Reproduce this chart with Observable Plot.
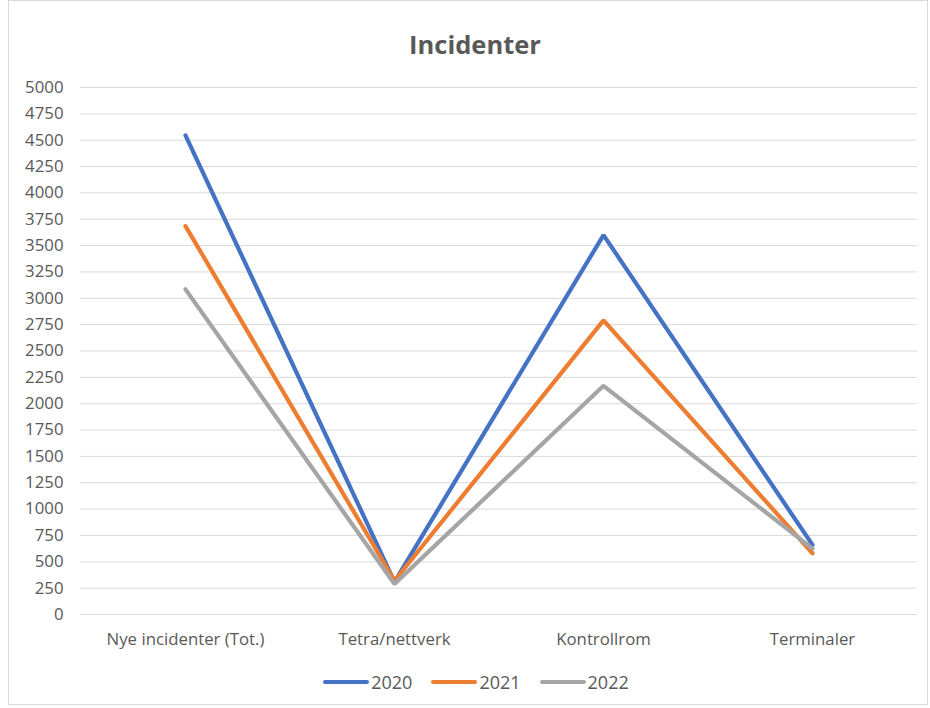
<!DOCTYPE html>
<html><head><meta charset="utf-8">
<script src="https://cdn.jsdelivr.net/npm/d3@7"></script>
<script src="https://cdn.jsdelivr.net/npm/@observablehq/plot@0.6"></script>
<style>
body{margin:0;background:#fff;font-family:"Open Sans",sans-serif;}
#box{position:absolute;left:8px;top:0;width:920px;height:705px;border:1px solid #d9d9d9;box-sizing:border-box;background:#fff;}
#title{height:69px;line-height:86px;text-align:center;font-size:25.5px;font-weight:bold;color:#595959;padding-left:14px;}
#chart svg text{font-size:16.8px;}
#legend{display:flex;justify-content:center;gap:19px;margin-top:9px;font-size:18px;color:#595959;padding-left:16px;}
.item{display:flex;align-items:center;gap:2px;}
.sw{width:46px;height:4px;border-radius:2px;display:inline-block;}
</style></head>
<body>
<div id="box"><div id="title">Incidenter</div><div id="chart"></div><div id="legend"></div></div>
<script>
const categories = ["Nye incidenter (Tot.)", "Tetra/nettverk", "Kontrollrom", "Terminaler"];
const years = ["2020", "2021", "2022"];
const values2020 = [4545, 310, 3600, 660];
const values2021 = [3685, 320, 2790, 580];
const values2022 = [3085, 290, 2170, 625];
const colors = ["#4472C4", "#ED7D31", "#A5A5A5"];
const yTicks = d3.range(0, 5001, 250);

const series = [values2020, values2021, values2022];
const data = [];
years.forEach((y, i) => categories.forEach((c, j) => data.push({year: y, cat: c, value: series[i][j]})));

const chart = Plot.plot({
  width: 918, height: 591,
  marginTop: 17, marginBottom: 47, marginLeft: 71, marginRight: 10,
  style: {fontFamily: "'Open Sans', sans-serif", fontSize: "16.8px", color: "#595959", background: "transparent"},
  x: {type: "point", domain: categories, padding: 0.5, label: null},
  y: {domain: [0, 5000], ticks: yTicks, label: null},
  color: {domain: years, range: colors},
  marks: [
    Plot.gridY(yTicks, {stroke: "#d9d9d9", strokeOpacity: 1, strokeWidth: 1}),
    Plot.axisY(yTicks, {tickSize: 0, tickPadding: 17, label: null, tickFormat: d => String(d), fill: "#595959"}),
    Plot.axisX({tickSize: 0, tickPadding: 19, label: null, fill: "#595959"}),
    Plot.line(data, {x: "cat", y: "value", stroke: "year", z: "year", strokeWidth: 4.2, strokeLinecap: "round", strokeLinejoin: "miter"})
  ]
});
document.getElementById("chart").appendChild(chart);

const leg = document.getElementById("legend");
years.forEach((y, i) => {
  const it = document.createElement("div"); it.className = "item";
  const sw = document.createElement("span"); sw.className = "sw"; sw.style.background = colors[i];
  const t = document.createElement("span"); t.textContent = y;
  it.appendChild(sw); it.appendChild(t); leg.appendChild(it);
});
</script>
</body></html>
